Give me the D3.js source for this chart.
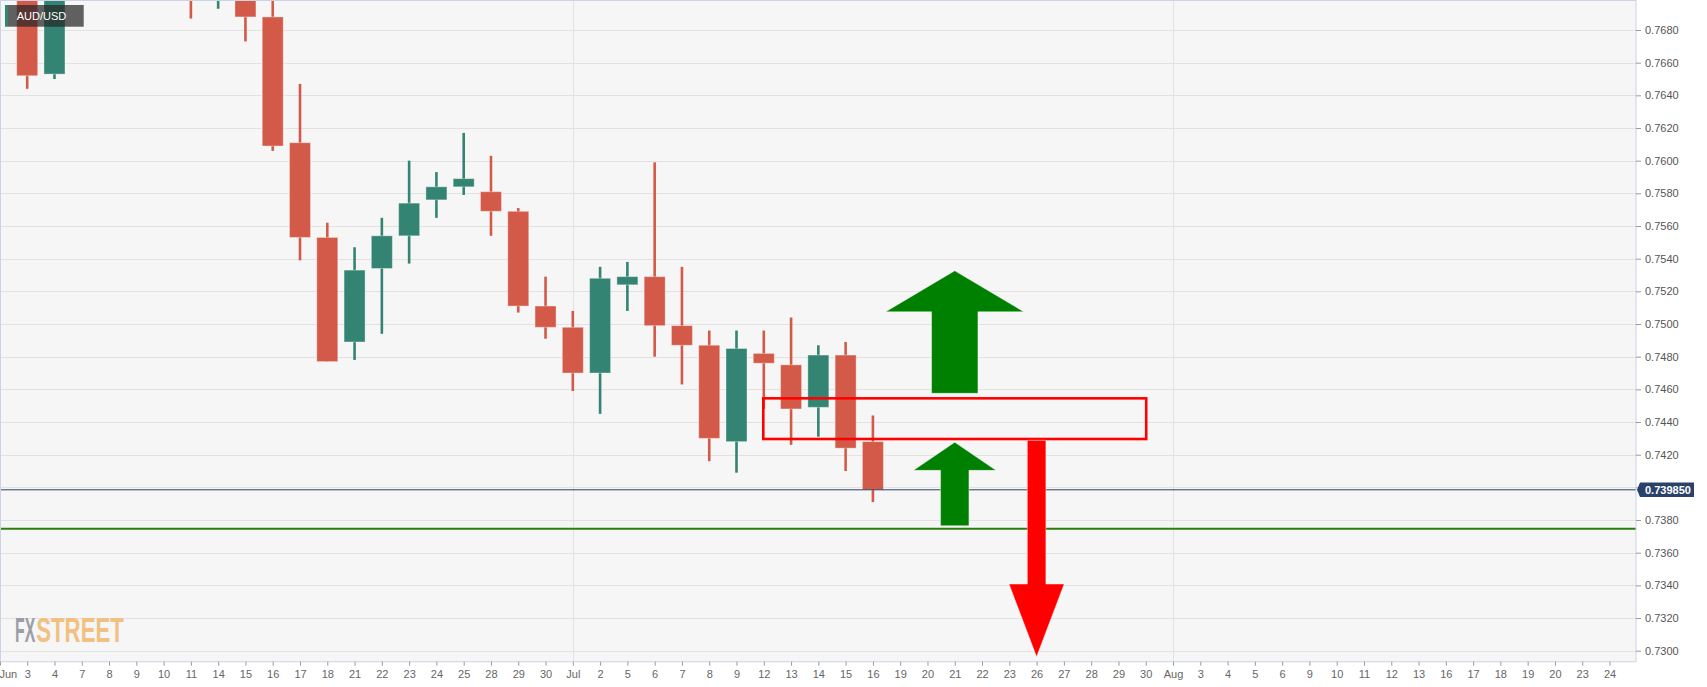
<!DOCTYPE html>
<html>
<head>
<meta charset="utf-8">
<script src="https://cdn.jsdelivr.net/npm/d3@7"></script>
<style>
  html, body { margin: 0; padding: 0; background: #ffffff; }
  svg { display: block; }
  text { font-family: "Liberation Sans", Arial, sans-serif; }
</style>
</head>
<body>
<svg id="chart" width="1707" height="687"></svg>
<script>
// ---------- DATA ----------
const axisDates = ["06-02","06-03","06-04","06-07","06-08","06-09","06-10","06-11","06-14","06-15","06-16","06-17","06-18","06-21","06-22","06-23","06-24","06-25","06-28","06-29","06-30",
  "07-01","07-02","07-05","07-06","07-07","07-08","07-09","07-12","07-13","07-14","07-15","07-16","07-19","07-20","07-21","07-22","07-23","07-26","07-27","07-28","07-29","07-30",
  "08-02","08-03","08-04","08-05","08-06","08-09","08-10","08-11","08-12","08-13","08-16","08-17","08-18","08-19","08-20","08-23","08-24"];
const monthNames = { "06": "Jun", "07": "Jul", "08": "Aug" };

const candleDates = ["06-03","06-04","06-07","06-08","06-09","06-10","06-11","06-14","06-15","06-16","06-17","06-18","06-21","06-22","06-23","06-24","06-25","06-28","06-29","06-30",
  "07-01","07-02","07-05","07-06","07-07","07-08","07-09","07-12","07-13","07-14","07-15","07-16"];
const openVals  = [0.7755,0.7653,0.7739,0.7753,0.7739,0.7736,0.7747,0.7705,0.7716,0.7688,0.7611,0.7553,0.7489,0.7534,0.7554,0.7576,0.7584,0.7581,0.7569,0.7511,
  0.7498,0.7470,0.7524,0.7529,0.7499,0.7487,0.7428,0.7482,0.7475,0.7449,0.7481,0.7428];
const highVals  = [0.7757,0.7744,0.7760,0.7765,0.7747,0.7775,0.7753,0.7726,0.7722,0.7715,0.7647,0.7562,0.7547,0.7565,0.7600,0.7593,0.7617,0.7603,0.7571,0.7529,
  0.7508,0.7535,0.7538,0.7599,0.7535,0.7496,0.7496,0.7496,0.7504,0.7487,0.7489,0.7444];
const lowVals   = [0.7644,0.7650,0.7726,0.7727,0.7716,0.7713,0.7687,0.7693,0.7673,0.7606,0.7539,0.7477,0.7478,0.7494,0.7537,0.7565,0.7579,0.7554,0.7507,0.7491,
  0.7459,0.7445,0.7508,0.7480,0.7463,0.7416,0.7409,0.7448,0.7426,0.7431,0.7410,0.7391];
const closeVals = [0.7652,0.7739,0.7753,0.7739,0.7736,0.7747,0.7711,0.7718,0.7688,0.7609,0.7553,0.7477,0.7533,0.7554,0.7574,0.7584,0.7589,0.7569,0.7511,0.7498,
  0.7470,0.7528,0.7529,0.7499,0.7487,0.7430,0.7485,0.7476,0.7448,0.7481,0.7424,0.73985];

const yTicks = [0.7300,0.7320,0.7340,0.7360,0.7380,0.7400,0.7420,0.7440,0.7460,0.7480,0.7500,0.7520,0.7540,0.7560,0.7580,0.7600,0.7620,0.7640,0.7660,0.7680];
const symbolName = "AUD/USD";
const lastPrice = 0.73985;
const supportLevel = 0.73747;
// annotation zone and arrows (data coordinates)
const zoneDates = ["07-12", "07-30"];
const zoneLevels = [0.74545, 0.74296];
const bigUpArrow = { date: "07-21", tip: 0.75326, headBase: 0.75075, tail: 0.74576 };
const smallUpArrow = { date: "07-21", tip: 0.74276, headBase: 0.74104, tail: 0.73765 };
const downArrow = { date: "07-26", tail: 0.74288, headBase: 0.73408, tip: 0.72963 };

// ---------- LAYOUT ----------
const W = 1707, H = 687;
const plotRight = 1636, plotBottom = 661.7;
const svg = d3.select("#chart");

const x = d3.scalePoint().domain(axisDates).range([-0.08, 1609.5]);
const y = d3.scaleLinear().domain([0.7300, 0.7680]).range([650.7, 30]);
const step = x.step();

svg.append("rect").attr("width", W).attr("height", H).attr("fill", "#ffffff");
svg.append("rect").attr("x", 0).attr("y", 0).attr("width", plotRight).attr("height", plotBottom).attr("fill", "#f6f6f6");

const defs = svg.append("defs");
defs.append("clipPath").attr("id", "plotclip").append("rect")
  .attr("x", 1).attr("y", 1).attr("width", plotRight - 1).attr("height", plotBottom - 1);

// grid
const grid = svg.append("g").attr("clip-path", "url(#plotclip)");
grid.selectAll("line.h").data(yTicks).join("line")
  .attr("x1", 0).attr("x2", plotRight)
  .attr("y1", d => Math.round(y(d)) + 0.5).attr("y2", d => Math.round(y(d)) + 0.5)
  .attr("stroke", "#e2e2e2").attr("stroke-width", 1);
const monthStarts = axisDates.filter((d, i) => i === 0 || d.slice(0, 2) !== axisDates[i - 1].slice(0, 2));
grid.selectAll("line.v").data(monthStarts).join("line")
  .attr("x1", d => Math.round(x(d)) + 0.5).attr("x2", d => Math.round(x(d)) + 0.5)
  .attr("y1", 0).attr("y2", plotBottom)
  .attr("stroke", "#e2e2e2").attr("stroke-width", 1);

// watermark: each part squeezed horizontally to its target width
function condensedText(str, x0, width, color) {
  const t = svg.append("text").attr("x", 0).attr("y", 0)
    .attr("font-family", "'DejaVu Sans Condensed', 'DejaVu Sans', sans-serif").attr("font-weight", "bold")
    .attr("font-size", 35.5).attr("fill", color).text(str);
  const natural = t.node().getComputedTextLength();
  t.attr("transform", `translate(${x0},641.7) scale(${width / natural},1)`);
}
condensedText("FX", 15, 20.3, "#9b9ea6");
condensedText("STREET", 36.2, 87.8, "#f2c182");

// candles
const candles = candleDates.map((d, i) => ({ date: d, o: openVals[i], h: highVals[i], l: lowVals[i], c: closeVals[i] }));
const up = "#348473", down = "#d35a48";
const bodyW = 21;
const cg = svg.append("g").attr("clip-path", "url(#plotclip)");
cg.selectAll("rect.wick").data(candles).join("rect")
  .attr("x", d => x(d.date) - 1.3).attr("width", 2.6)
  .attr("y", d => y(d.h)).attr("height", d => y(d.l) - y(d.h))
  .attr("fill", d => d.c >= d.o ? up : down);
cg.selectAll("rect.body").data(candles).join("rect")
  .attr("x", d => x(d.date) - bodyW / 2).attr("width", bodyW)
  .attr("y", d => y(Math.max(d.o, d.c))).attr("height", d => Math.max(1, Math.abs(y(d.o) - y(d.c))))
  .attr("fill", d => d.c >= d.o ? up : down)
  .attr("stroke", "rgba(255,255,255,0.35)").attr("stroke-width", 1);

// horizontal lines
const ag = svg.append("g").attr("clip-path", "url(#plotclip)");
ag.append("line").attr("x1", 0).attr("x2", plotRight)
  .attr("y1", y(lastPrice)).attr("y2", y(lastPrice))
  .attr("stroke", "#2c3f62").attr("stroke-width", 1);
ag.append("line").attr("x1", 0).attr("x2", plotRight)
  .attr("y1", y(supportLevel)).attr("y2", y(supportLevel))
  .attr("stroke", "#2e7d0c").attr("stroke-width", 2);

// zone rectangle
ag.append("rect")
  .attr("x", x(zoneDates[0]) - 0.5).attr("width", x(zoneDates[1]) - x(zoneDates[0]) + 1)
  .attr("y", y(zoneLevels[0])).attr("height", y(zoneLevels[1]) - y(zoneLevels[0]))
  .attr("fill", "none").attr("stroke", "#ff0000").attr("stroke-width", 2.6);

// arrows
function arrowPath(a, headHW, shaftHW) {
  const cx = x(a.date);
  return [[cx, y(a.tip)], [cx + headHW, y(a.headBase)], [cx + shaftHW, y(a.headBase)], [cx + shaftHW, y(a.tail)],
          [cx - shaftHW, y(a.tail)], [cx - shaftHW, y(a.headBase)], [cx - headHW, y(a.headBase)]];
}
const line = d3.line();
ag.append("path").attr("d", line(arrowPath(bigUpArrow, 2.53 * step, 0.85 * step)) + "Z")
  .attr("fill", "#008000").attr("stroke", "rgba(255,255,255,0.4)").attr("stroke-width", 1);
ag.append("path").attr("d", line(arrowPath(smallUpArrow, 1.51 * step, 0.52 * step)) + "Z")
  .attr("fill", "#008000").attr("stroke", "rgba(255,255,255,0.4)").attr("stroke-width", 1);
ag.append("path").attr("d", line(arrowPath(downArrow, 1.01 * step, 0.34 * step)) + "Z")
  .attr("fill", "#ff0000").attr("stroke", "rgba(255,255,255,0.4)").attr("stroke-width", 1);

// plot border
svg.append("rect").attr("x", 0.5).attr("y", 0.5).attr("width", plotRight - 0.5).attr("height", plotBottom - 0.5)
  .attr("fill", "none").attr("stroke", "#cdd3e6").attr("stroke-width", 1);

// y axis (right)
const yAxis = svg.append("g").attr("transform", `translate(${plotRight},0)`)
  .call(d3.axisRight(y).tickValues(yTicks).tickSize(5).tickPadding(4).tickFormat(d3.format(".4f")));
yAxis.select(".domain").remove();
yAxis.selectAll(".tick line").attr("stroke", "#999");
yAxis.selectAll(".tick text").attr("fill", "#555").attr("font-size", 11)
  .attr("font-family", "'Liberation Sans', Arial, sans-serif");
// the label under the last-price tag is hidden, as in the original
yAxis.selectAll(".tick text").filter(d => Math.abs(y(d) - y(lastPrice)) < 9).remove();

// x axis
const labelFor = (d) => {
  const idx = axisDates.indexOf(d);
  if (idx === 0 || d.slice(0, 2) !== axisDates[idx - 1].slice(0, 2)) return monthNames[d.slice(0, 2)];
  return String(+d.slice(3));
};
const xAxis = svg.append("g").attr("transform", `translate(0,${plotBottom})`)
  .call(d3.axisBottom(x).tickSize(4).tickPadding(5).tickFormat(labelFor));
xAxis.select(".domain").remove();
xAxis.selectAll(".tick line").attr("stroke", "#999");
xAxis.selectAll(".tick text").attr("fill", "#666").attr("font-size", 11)
  .attr("font-family", "'Liberation Sans', Arial, sans-serif");
xAxis.selectAll(".tick text").filter(d => d === axisDates[0]).attr("text-anchor", "start").attr("x", -1);

// last price label
const py = y(lastPrice);
svg.append("path")
  .attr("d", `M${plotRight + 1},${py} L${plotRight + 4},${py - 7.3} L1694,${py - 7.3} L1694,${py + 7.3} L${plotRight + 4},${py + 7.3} Z`)
  .attr("fill", "#2b4268");
svg.append("text").attr("x", 1645).attr("y", py + 4).attr("fill", "#ffffff")
  .attr("font-size", 11).attr("font-weight", "bold").text(d3.format(".6f")(lastPrice));

// symbol label
svg.append("rect").attr("x", 5).attr("y", 5).attr("width", 3).attr("height", 21.7).attr("fill", up);
svg.append("rect").attr("x", 8).attr("y", 5).attr("width", 75.7).attr("height", 21.7).attr("fill", "rgba(38,38,38,0.72)");
svg.append("text").attr("x", 16.7).attr("y", 20.2).attr("fill", "#ffffff").attr("font-size", 11).text(symbolName);
</script>
</body>
</html>
